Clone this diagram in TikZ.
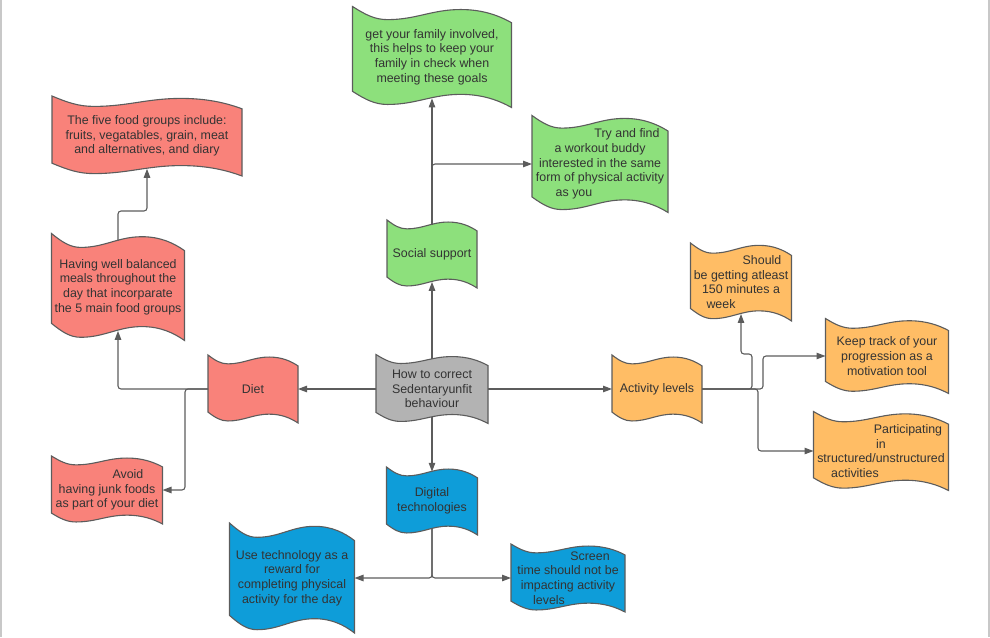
\documentclass[tikz,border=0pt]{standalone}
\usepackage{fontspec}
\setmainfont{Liberation Sans}
\usetikzlibrary{arrows.meta,positioning}

\definecolor{dietred}{HTML}{F9827A}
\definecolor{socialgreen}{HTML}{8DE07C}
\definecolor{activityorange}{HTML}{FFBD65}
\definecolor{digitalblue}{HTML}{0E9DD9}
\definecolor{centregray}{HTML}{B3B3B3}
\definecolor{edgegray}{HTML}{5C5C5C}
\definecolor{textgray}{HTML}{333333}
\definecolor{framegray}{HTML}{C8C8C8}

% wavy box: both long sides the same curve, right side lower than the left
\makeatletter
\def\wavedrop{0.16}
\pgfdeclareshape{wave}{%
  \inheritsavedanchors[from=rectangle]%
  \inheritanchorborder[from=rectangle]%
  \inheritanchor[from=rectangle]{center}%
  \inheritanchor[from=rectangle]{east}%
  \inheritanchor[from=rectangle]{west}%
  \anchor{north}{%
    \southwest \pgf@xa=\pgf@x \pgf@ya=\pgf@y
    \northeast \advance\pgf@x by \pgf@xa \pgf@x=.5\pgf@x
    \pgf@yb=\pgf@y \advance\pgf@yb by -\pgf@ya
    \advance\pgf@y by -0.07\pgf@yb}%
  \anchor{south}{%
    \northeast \pgf@xa=\pgf@x \pgf@ya=\pgf@y
    \southwest \advance\pgf@x by \pgf@xa \pgf@x=.5\pgf@x
    \advance\pgf@ya by -\pgf@y
    \advance\pgf@y by 0.09\pgf@ya}%
  \backgroundpath{%
    \southwest \pgf@xa=\pgf@x \pgf@ya=\pgf@y
    \northeast \pgf@xb=\pgf@x \pgf@yb=\pgf@y
    \pgf@xc=\pgf@xb \advance\pgf@xc by -\pgf@xa
    \pgf@yc=\pgf@yb \advance\pgf@yc by -\pgf@ya
    \edef\wv@x{\the\pgf@xa}\edef\wv@w{\the\pgf@xc}\edef\wv@h{\the\pgf@yc}%
    \edef\wv@top{\the\pgf@yb}%
    \pgf@yc=\wavedrop\pgf@yc \advance\pgf@yc by \pgf@ya
    \edef\wv@bot{\the\pgf@yc}%
    \def\wv@p##1##2##3{\pgfpoint{\wv@x+##1*\wv@w}{##3-##2*\wv@h}}%
    \pgfpathmoveto{\wv@p{0}{0}{\wv@top}}%
    \pgfpathcurveto{\wv@p{0.08}{0.08}{\wv@top}}{\wv@p{0.14}{0.13}{\wv@top}}{\wv@p{0.22}{0.13}{\wv@top}}%
    \pgfpathcurveto{\wv@p{0.40}{0.13}{\wv@top}}{\wv@p{0.50}{0.03}{\wv@top}}{\wv@p{0.68}{0.03}{\wv@top}}%
    \pgfpathcurveto{\wv@p{0.82}{0.03}{\wv@top}}{\wv@p{0.92}{0.09}{\wv@top}}{\wv@p{1}{\wavedrop}{\wv@top}}%
    \pgfpathlineto{\wv@p{1}{\wavedrop}{\wv@bot}}%
    \pgfpathcurveto{\wv@p{0.92}{0.09}{\wv@bot}}{\wv@p{0.82}{0.03}{\wv@bot}}{\wv@p{0.68}{0.03}{\wv@bot}}%
    \pgfpathcurveto{\wv@p{0.50}{0.03}{\wv@bot}}{\wv@p{0.40}{0.13}{\wv@bot}}{\wv@p{0.22}{0.13}{\wv@bot}}%
    \pgfpathcurveto{\wv@p{0.14}{0.13}{\wv@bot}}{\wv@p{0.08}{0.08}{\wv@bot}}{\wv@p{0}{0}{\wv@bot}}%
    \pgfpathclose}%
}
\makeatother

\begin{document}
\begin{tikzpicture}[x=1pt,y=-1pt,font=\fontsize{12.4}{14.7}\selectfont,
  conn/.style={draw=edgegray,line width=1.1pt,rounded corners=3pt,-{Triangle[length=9pt,width=6.5pt]}}]
            \tikzstyle{wave node}=[wave,draw=edgegray,line width=1.1pt,text=textgray,align=center,inner sep=1pt,outer sep=0pt]
            \tikzstyle{red node}=[wave node,fill=dietred]
            \tikzstyle{green node}=[wave node,fill=socialgreen]
            \tikzstyle{orange node}=[wave node,fill=activityorange]
            \tikzstyle{blue node}=[wave node,fill=digitalblue]
            \useasboundingbox (0,0) rectangle (990,637);
            \draw[framegray,line width=2pt] (1,0) -- (1,637) (988.5,0) -- (988.5,637);
            % centre and the four branches
            \node(centre)[wave node,fill=centregray,minimum width=112pt,minimum height=69pt] at (432,389) {How to correct\\Sedentaryunfit\\behaviour};
            \node(diet)[red node,minimum width=90pt,minimum height=68pt] at (253,389) {Diet};
            \node(activity)[orange node,minimum width=90pt,minimum height=68pt] at (657,389) {Activity levels};
            \node(social)[green node,minimum width=90pt,minimum height=68pt] at (432,254) {Social support};
            \node(digital)[blue node,minimum width=91pt,minimum height=68pt] at (432,501) {Digital\\technologies};
            % leaves
            \node(family)[green node,minimum width=159pt,minimum height=101pt] at (432,57) {get your family involved,\\this helps to keep your\\family in check when\\meeting these goals};
            \node(buddy)[green node,minimum width=136pt,minimum height=97pt] at (600,164) {\hspace*{54pt}Try and find\\a workout buddy\\interested in the same\\form of physical activity\\as you\hspace*{52pt}};
            \node(groups)[red node,minimum width=190pt,minimum height=80pt] at (147,136) {The five food groups include:\\fruits, vegatables, grain, meat\\and alternatives, and diary};
            \node(meals)[red node,minimum width=133pt,minimum height=107pt] at (118,287) {Having well balanced\\meals throughout the\\day that incorparate\\the 5 main food groups};
            \node(junk)[red node,minimum width=111pt,minimum height=68pt] at (107,490) {\hspace*{42pt}Avoid\\having junk foods\\as part of your diet};
            \node(minutes)[orange node,minimum width=101pt,minimum height=78pt] at (741,282) {\hspace*{42pt}Should\\be getting atleast\\150 minutes a\\week\hspace*{40pt}};
            \node(track)[orange node,minimum width=123pt,minimum height=75pt] at (887,356) {Keep track of your\\progression as a\\motivation tool};
            \node(structured)[orange node,minimum width=135pt,minimum height=79pt] at (881,451) {\hspace*{54pt}Participating\\in\\structured/unstructured\\activities\hspace*{52pt}};
            \node(reward)[blue node,minimum width=125pt,minimum height=110pt] at (292,578) {Use technology as a\\reward for\\completing physical\\activity for the day};
            \node(screen)[blue node,minimum width=114pt,minimum height=68pt] at (568,578) {\hspace*{44pt}Screen\\time should not be\\impacting activity\\levels\hspace*{38pt}};
            \coordinate(dietfork) at (185,389);
            % connectors
            \draw[conn] (centre.north) -- (social.south);
            \draw[conn] (centre.west) -- (diet.east);
            \draw[conn] (centre.east) -- (activity.west);
            \draw[conn] (centre.south) -- (digital.north);
            \draw[conn] (social.north) -- (family.south);
            \draw[conn] (social.north) |- (buddy.west);
            \draw[conn] (diet.west) -| (meals.south);
            \draw[conn] (diet.west) -- (dietfork) |- (junk.east);
            \draw[conn] (meals.north) -- ++(0,-30) -| (groups.south);
            \draw[conn] (activity.east) -- ++(50,0) -- ++(0,-35) -| (minutes.south);
            \draw[conn] (activity.east) -- ++(61,0) |- (track.west);
            \draw[conn] (activity.east) -- ++(56,0) |- (structured.west);
            \draw[conn] (digital.south) |- (reward.east);
            \draw[conn] (digital.south) |- (screen.west);
\end{tikzpicture}
\end{document}
